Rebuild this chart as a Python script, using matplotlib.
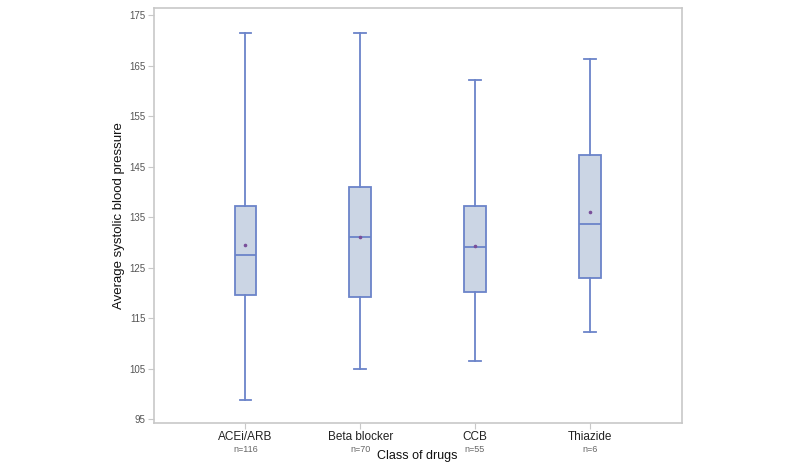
import numpy as np
import matplotlib.pyplot as plt
import matplotlib.transforms as mtransforms

plt.rcParams['font.family'] = ['Liberation Sans', 'DejaVu Sans']

# donnees
drugs = ['ACEi/ARB', 'Beta blocker', 'CCB', 'Thiazide']
counts = [116, 70, 55, 6]
whisk_low = [98.8, 104.9, 106.5, 112.2]
q1 = [119.5, 119.1, 120.2, 123.0]
median = [127.5, 131.0, 129.1, 133.6]
q3 = [137.2, 140.9, 137.2, 147.3]
whisk_high = [171.4, 171.4, 162.1, 166.3]
mean = [129.5, 131.1, 129.3, 136.0]

edge = '#6b84c9'
fill = '#cbd5e4'
grey = '#c8c8c8'

stats = []
for i in range(len(drugs)):
    stats.append({'label': drugs[i], 'whislo': whisk_low[i], 'q1': q1[i],
                  'med': median[i], 'q3': q3[i], 'whishi': whisk_high[i],
                  'mean': mean[i], 'fliers': []})

fig = plt.figure(figsize=(8, 4.67), dpi=100)
ax = fig.add_axes([0.192, 0.094, 0.66, 0.889])

pos = np.arange(1, len(drugs) + 1)
ax.bxp(stats, positions=pos, widths=0.19, patch_artist=True, showmeans=True,
       capwidths=0.1,
       boxprops=dict(facecolor=fill, edgecolor=edge, linewidth=1.3),
       medianprops=dict(color=edge, linewidth=1.3),
       whiskerprops=dict(color=edge, linewidth=1.3),
       capprops=dict(color=edge, linewidth=1.3),
       meanprops=dict(marker='o', markersize=1.6, markerfacecolor='#7a4f9a',
                      markeredgecolor='#7a4f9a'))

ax.set_xlim(0.2, 4.8)
ax.set_ylim(94.2, 176.4)
ax.set_yticks(np.arange(95, 176, 10))
ax.set_xticks(pos)
ax.set_xticklabels(drugs, fontsize=8.5, color='#222222')
ax.tick_params(axis='y', labelsize=7, length=4, width=0.8, colors=grey,
               labelcolor='#555555', pad=2)
ax.tick_params(axis='x', length=4, width=0.8, colors=grey,
               labelcolor='#222222', pad=2)

for s in ax.spines.values():
    s.set_color(grey)
    s.set_linewidth(1.2)

trans = mtransforms.blended_transform_factory(ax.transData, fig.transFigure)
for p, n in zip(pos, counts):
    ax.text(p, 1 - 450 / 467, 'n=%d' % n, transform=trans, ha='center',
            va='center', fontsize=6.5, color='#666666')

ax.set_ylabel('Average systolic blood pressure', fontsize=9.5, color='#111111',
              labelpad=3)
fig.text(417 / 800, 1 - 456 / 467, 'Class of drugs', ha='center', va='center',
         fontsize=9, color='#111111')

fig.savefig('out.png', dpi=100)
